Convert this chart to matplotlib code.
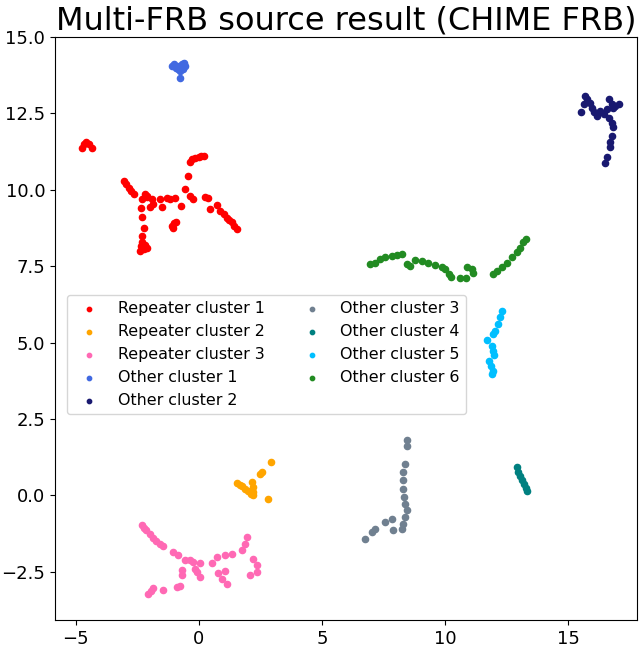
import matplotlib
matplotlib.use("Agg")
import matplotlib.pyplot as plt

# cluster labels and colours
labels = ["Repeater cluster 1", "Repeater cluster 2", "Repeater cluster 3",
          "Other cluster 1", "Other cluster 2", "Other cluster 3",
          "Other cluster 4", "Other cluster 5", "Other cluster 6"]
colors = ["red", "orange", "hotpink", "royalblue", "midnightblue",
          "slategray", "teal", "deepskyblue", "forestgreen"]

# Repeater cluster 1
rep1_x = [-4.77, -4.67, -4.57, -4.46, -4.36,
          -3.05, -2.95, -2.85, -2.75, -2.65,
          -2.2, -2.3, -2.1, -2.35, -2.3, -2.25, -2.3, -2.3, -2.35, -2.25, -2.4, -2.1, -2.2,
          -2.1, -1.9,
          -1.99, -1.86, -1.59, -1.52, -1.31, -1.18, -0.98, -0.74,
          -1.1, -1.0, -1.05, -0.95,
          -0.43, -0.57, -0.37, -0.23,
          -0.35, -0.3, -0.15, 0.0, 0.1, 0.2,
          0.24, 0.38, 0.45, 0.72, 0.85, 1.0, 1.13, 1.23, 1.33, 1.43, 1.53]
rep1_y = [11.38, 11.5, 11.55, 11.49, 11.36,
          10.29, 10.2, 10.05, 9.95, 9.85,
          9.85, 9.7, 9.8, 9.4, 9.1, 8.75, 8.5, 8.3, 8.15, 8.05, 8.0, 8.1, 8.2,
          9.75, 9.7,
          9.42, 9.53, 9.7, 9.42, 9.72, 9.7, 9.72, 9.48,
          8.8, 8.9, 8.75, 8.95,
          10.46, 10.04, 9.8, 9.7,
          10.9, 11.0, 11.05, 11.08, 11.1, 11.12,
          9.75, 9.72, 9.37, 9.5, 9.31, 9.2, 9.09, 9.0, 8.93, 8.82, 8.72]

# Repeater cluster 2
rep2_x = [1.56, 1.67, 1.87, 2.0, 2.14, 2.21, 2.21, 2.1, 2.48, 2.55, 2.91, 2.82, 1.75, 2.18]
rep2_y = [0.4, 0.33, 0.22, 0.16, 0.43, 0.11, 0.27, 0.05, 0.71, 0.76, 1.09, -0.13, 0.3, 0.0]

# Repeater cluster 3
rep3_x = [-2.33, -2.25, -2.15, -2.0, -1.85, -1.75, -1.6, -1.45,
          -1.04, -0.84, -0.57, -0.37, -0.23,
          0.04, -0.16, -0.09, 0.04, -0.7, -0.7,
          -2.05, -1.85, -1.45, -0.91, -0.77, -1.95,
          0.52, 0.72, 1.06, 1.33,
          0.79, 0.92, 1.13, 1.06,
          1.94, 1.87, 1.74,
          2.21, 2.35, 2.35, 2.07]
rep3_y = [-0.98, -1.05, -1.12, -1.25, -1.4, -1.5, -1.6, -1.65,
          -1.85, -1.96, -2.12, -2.12, -2.18,
          -2.21, -2.4, -2.51, -2.67, -2.45, -2.61,
          -3.21, -3.02, -3.08, -3.0, -2.97, -3.12,
          -2.21, -2.02, -1.96, -1.93,
          -2.54, -2.72, -2.89, -2.48,
          -1.36, -1.58, -1.77,
          -2.07, -2.29, -2.51, -2.61]

# Other cluster 1
oth1_x = [-1.1, -1.0, -0.95, -0.85, -0.8, -0.7, -0.6, -0.55, -0.65, -0.75, -0.75, -0.9]
oth1_y = [14.05, 14.1, 14.0, 13.95, 14.05, 14.1, 14.15, 14.05, 13.95, 13.9, 13.65, 14.0]

# Other cluster 2
oth2_x = [15.69, 15.76, 15.65, 15.52, 15.89, 15.96, 16.03, 16.17, 16.3, 16.44, 16.57, 16.64,
          16.78, 16.84, 16.64, 16.78, 16.84, 16.78, 16.71, 16.68, 16.57, 16.5, 16.91, 17.05]
oth2_y = [13.07, 12.96, 12.8, 12.56, 12.85, 12.69, 12.53, 12.42, 12.58, 12.47, 12.64, 12.96,
          12.8, 12.69, 12.36, 12.2, 12.04, 11.76, 11.55, 11.39, 11.06, 10.89, 12.75, 12.8]

# Other cluster 3
oth3_x = [8.44, 8.47, 8.37, 8.3, 8.3, 8.3, 8.33, 8.37, 8.44, 8.37, 8.3, 8.24,
          7.9, 7.56, 7.83, 7.15, 7.02, 6.75]
oth3_y = [1.8, 1.63, 1.04, 0.76, 0.49, 0.22, -0.06, -0.27, -0.49, -0.71, -0.93, -1.09,
          -1.14, -0.87, -0.76, -1.09, -1.2, -1.42]

# Other cluster 4
oth4_x = [12.91, 12.98, 13.05, 13.12, 13.2, 13.27, 13.32]
oth4_y = [0.92, 0.78, 0.64, 0.5, 0.36, 0.24, 0.16]

# Other cluster 5
oth5_x = [12.3, 12.24, 12.13, 12.03, 11.94, 11.72, 11.9, 11.96, 11.99, 11.8, 11.86, 11.94, 11.9]
oth5_y = [6.05, 5.83, 5.61, 5.39, 5.29, 5.09, 4.9, 4.74, 4.58, 4.41, 4.25, 4.08, 3.98]

# Other cluster 6
oth6_x = [6.95, 7.15, 7.36, 7.56, 7.83, 8.04, 8.24, 8.44, 8.58, 8.78, 9.05, 9.32, 9.59, 9.87,
          10.0, 10.14, 10.24, 10.61, 10.85, 10.88, 11.08, 11.15, 11.96, 12.1, 12.3, 12.51,
          12.72, 12.92, 13.06, 13.18, 13.3]
oth6_y = [7.57, 7.62, 7.73, 7.81, 7.84, 7.87, 7.9, 7.57, 7.52, 7.7, 7.66, 7.59, 7.55, 7.46,
          7.41, 7.25, 7.16, 7.11, 7.11, 7.46, 7.41, 7.28, 7.25, 7.33, 7.48, 7.62,
          7.79, 7.95, 8.11, 8.28, 8.4]

xs = [rep1_x, rep2_x, rep3_x, oth1_x, oth2_x, oth3_x, oth4_x, oth5_x, oth6_x]
ys = [rep1_y, rep2_y, rep3_y, oth1_y, oth2_y, oth3_y, oth4_y, oth5_y, oth6_y]

fig = plt.figure(figsize=(6.39, 6.48), dpi=100)
ax = fig.add_axes([0.086, 0.043, 0.911, 0.9])

for x, y, lab, c in zip(xs, ys, labels, colors):
    ax.scatter(x, y, s=20, color=c, label=lab)

ax.set_xlim(-5.85, 17.8)
ax.set_ylim(-4.08, 15.0)
ax.set_xticks([-5, 0, 5, 10, 15])
ax.tick_params(labelsize=13)
ax.set_title("Multi-FRB source result (CHIME FRB)", fontsize=23, pad=3)
ax.legend(ncol=2, fontsize=11.4, loc="upper left", markerscale=0.7,
          borderaxespad=0, bbox_to_anchor=(0.0206, 0.5575))

fig.savefig("out.png", dpi=100)
